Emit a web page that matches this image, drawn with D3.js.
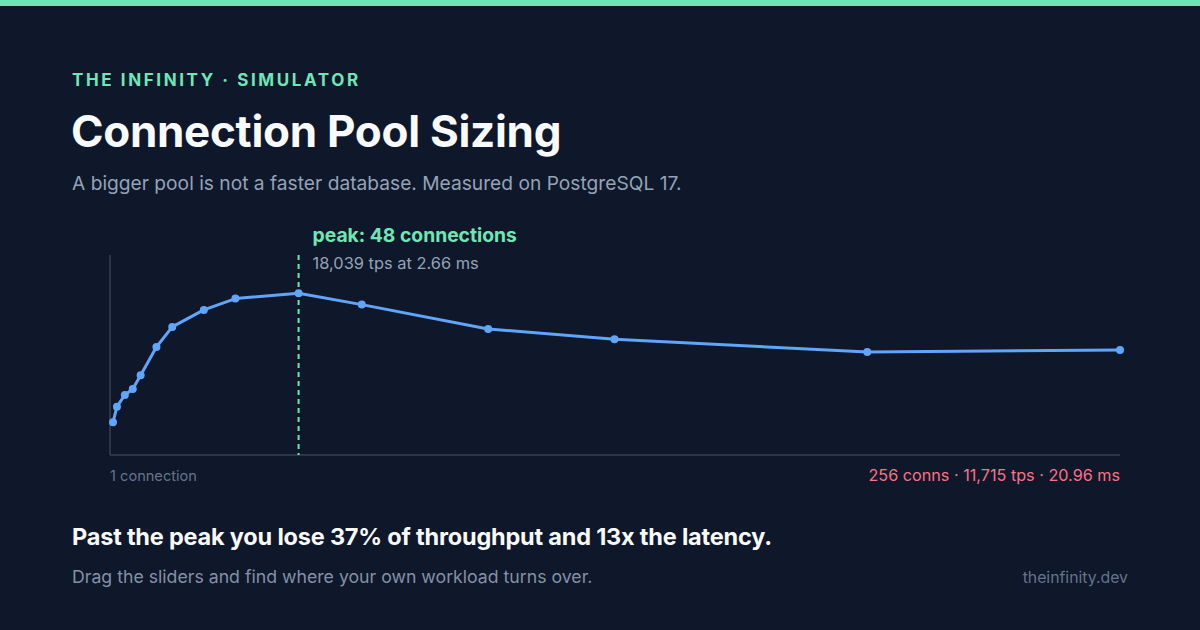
<!DOCTYPE html>
<html><head><meta charset="utf-8">
<script src="https://cdn.jsdelivr.net/npm/d3@7"></script>
<style>
html,body{margin:0;padding:0;background:#0f172a;}
svg{display:block;font-family:Inter,"Noto Sans",sans-serif;}
</style></head>
<body>
<svg id="c" width="1200" height="630"></svg>
<script>
const connections = [1, 2, 4, 6, 8, 12, 16, 24, 32, 48, 64, 96, 128, 192, 256];
const tps = [3648, 5388, 6694, 7363, 8891, 12048, 14280, 16176, 17437, 18039, 16768, 14057, 12907, 11491, 11715];
const peakConn = 48, peakTps = 18039, peakLatency = "2.66";
const lastLatency = "20.96";
const eyebrow = "THE INFINITY · SIMULATOR";
const title = "Connection Pool Sizing";
const subtitle = "A bigger pool is not a faster database. Measured on PostgreSQL 17.";
const takeaway = "Past the peak you lose 37% of throughput and 13x the latency.";
const note = "Drag the sliders and find where your own workload turns over.";
const site = "theinfinity.dev";

const svg = d3.select("#c");
svg.append("rect").attr("width",1200).attr("height",630).attr("fill","#0f172a");
svg.append("rect").attr("width",1200).attr("height",6).attr("fill","#6ee7b7");

svg.append("text").attr("x",72).attr("y",86).attr("fill","#6ee7b7")
  .attr("font-size",17).attr("font-weight",700).attr("letter-spacing",2.6).text(eyebrow);
svg.append("text").attr("x",71).attr("y",147).attr("fill","#f8fafc")
  .attr("font-size",44).attr("font-weight",700).attr("letter-spacing",-0.3).text(title);
svg.append("text").attr("x",72).attr("y",190).attr("fill","#94a3b8")
  .attr("font-size",19.2).text(subtitle);

const x = d3.scaleLinear().domain([1,256]).range([113,1120]);
const y = d3.scaleLinear().domain([0,22300]).range([455,255]);

// axes
svg.append("line").attr("x1",110).attr("x2",110).attr("y1",255).attr("y2",455)
  .attr("stroke","#334155").attr("stroke-width",1.5);
svg.append("line").attr("x1",110).attr("x2",1120).attr("y1",455).attr("y2",455)
  .attr("stroke","#334155").attr("stroke-width",1.5);

// peak marker
svg.append("line").attr("x1",x(peakConn)).attr("x2",x(peakConn)).attr("y1",255).attr("y2",455)
  .attr("stroke","#6ee7b7").attr("stroke-width",2).attr("stroke-dasharray","5,4");

const data = connections.map((c,i)=>({c, t:tps[i]}));
svg.append("path").datum(data)
  .attr("d", d3.line().x(d=>x(d.c)).y(d=>y(d.t)))
  .attr("fill","none").attr("stroke","#60a5fa").attr("stroke-width",3)
  .attr("stroke-linejoin","round");
svg.selectAll("circle.pt").data(data).join("circle").attr("class","pt")
  .attr("cx",d=>x(d.c)).attr("cy",d=>y(d.t)).attr("r",4).attr("fill","#60a5fa");

svg.append("text").attr("x",x(peakConn)+14).attr("y",242).attr("fill","#6ee7b7")
  .attr("font-size",19.3).attr("font-weight",700).text(`peak: ${peakConn} connections`);
svg.append("text").attr("x",x(peakConn)+14).attr("y",269).attr("fill","#94a3b8")
  .attr("font-size",16.4).text(`${d3.format(",")(peakTps)} tps at ${peakLatency} ms`);

svg.append("text").attr("x",110).attr("y",481).attr("fill","#64748b")
  .attr("font-size",14.6).text(`${connections[0]} connection`);
const lastI = connections.length-1;
svg.append("text").attr("x",1120).attr("y",481).attr("text-anchor","end").attr("fill","#fb7185")
  .attr("font-size",16.2).text(`${connections[lastI]} conns · ${d3.format(",")(tps[lastI])} tps · ${lastLatency} ms`);

svg.append("text").attr("x",72).attr("y",545).attr("fill","#f8fafc")
  .attr("font-size",23.5).attr("font-weight",700).attr("letter-spacing",-0.2).text(takeaway);
svg.append("text").attr("x",72).attr("y",583).attr("fill","#8391a7")
  .attr("font-size",17.7).text(note);
svg.append("text").attr("x",1128).attr("y",583).attr("text-anchor","end").attr("fill","#64748b")
  .attr("font-size",15.8).text(site);
</script>
</body></html>
